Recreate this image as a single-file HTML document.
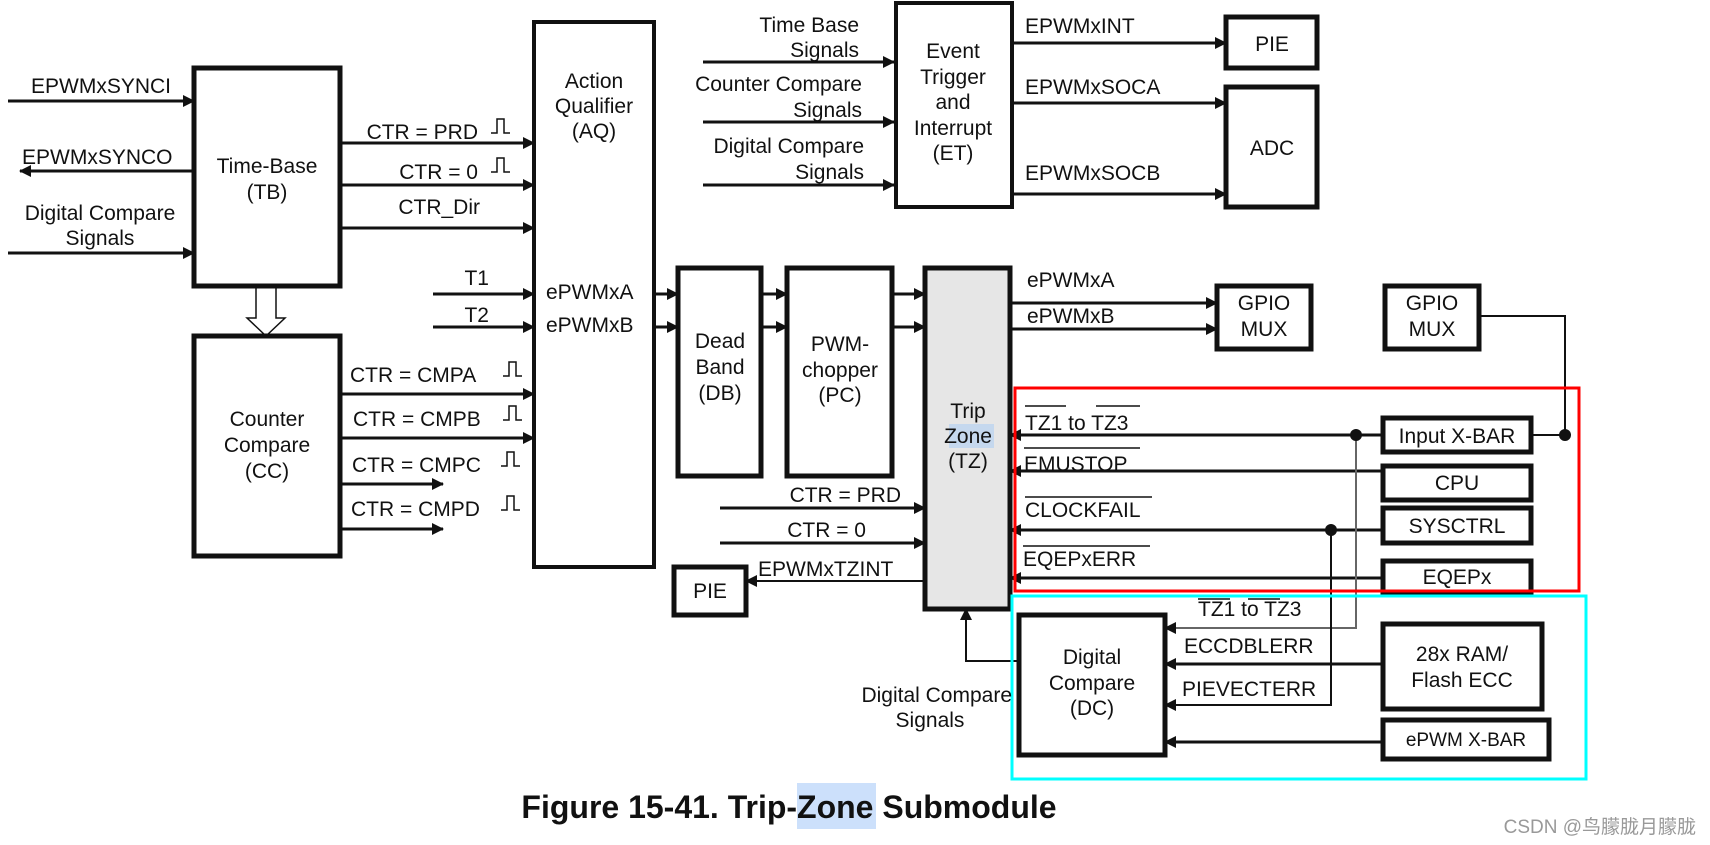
<!DOCTYPE html>
<html><head><meta charset="utf-8"><style>
html,body{margin:0;padding:0;background:#fff;width:1710px;height:845px;overflow:hidden}
svg text{font-family:"Liberation Sans",Arial,sans-serif;font-size:21px;fill:#111}
</style></head><body>
<svg width="1710" height="845" viewBox="0 0 1710 845" xmlns="http://www.w3.org/2000/svg">
<defs>
<marker id="a" markerWidth="12" markerHeight="12" refX="11" refY="6" orient="auto" markerUnits="userSpaceOnUse"><path d="M0,0 L12,6 L0,12 z" fill="#111"/></marker>
</defs>
<g fill="none" stroke="#111" stroke-width="3">
<line x1="8" y1="101" x2="194" y2="101" marker-end="url(#a)"/>
<line x1="194" y1="171" x2="20" y2="171" marker-end="url(#a)"/>
<line x1="8" y1="253" x2="194" y2="253" marker-end="url(#a)"/>
<line x1="340" y1="143" x2="534" y2="143" marker-end="url(#a)"/>
<line x1="340" y1="185" x2="534" y2="185" marker-end="url(#a)"/>
<line x1="340" y1="228" x2="534" y2="228" marker-end="url(#a)"/>
<line x1="433" y1="294" x2="534" y2="294" marker-end="url(#a)"/>
<line x1="433" y1="327" x2="534" y2="327" marker-end="url(#a)"/>
<line x1="340" y1="394" x2="534" y2="394" marker-end="url(#a)"/>
<line x1="340" y1="438" x2="534" y2="438" marker-end="url(#a)"/>
<line x1="340" y1="484" x2="443" y2="484" marker-end="url(#a)"/>
<line x1="340" y1="529" x2="443" y2="529" marker-end="url(#a)"/>
<line x1="654" y1="294" x2="678" y2="294" marker-end="url(#a)"/>
<line x1="654" y1="327" x2="678" y2="327" marker-end="url(#a)"/>
<line x1="761" y1="294" x2="787" y2="294" marker-end="url(#a)"/>
<line x1="761" y1="327" x2="787" y2="327" marker-end="url(#a)"/>
<line x1="892" y1="294" x2="925" y2="294" marker-end="url(#a)"/>
<line x1="892" y1="327" x2="925" y2="327" marker-end="url(#a)"/>
<line x1="703" y1="62" x2="894" y2="62" marker-end="url(#a)"/>
<line x1="703" y1="122" x2="894" y2="122" marker-end="url(#a)"/>
<line x1="703" y1="185" x2="894" y2="185" marker-end="url(#a)"/>
<line x1="1012" y1="43" x2="1226" y2="43" marker-end="url(#a)"/>
<line x1="1012" y1="103" x2="1226" y2="103" marker-end="url(#a)"/>
<line x1="1012" y1="194" x2="1226" y2="194" marker-end="url(#a)"/>
<line x1="1010" y1="303" x2="1217" y2="303" marker-end="url(#a)"/>
<line x1="1010" y1="329" x2="1217" y2="329" marker-end="url(#a)"/>
<line x1="720" y1="508" x2="925" y2="508" marker-end="url(#a)"/>
<line x1="720" y1="543" x2="925" y2="543" marker-end="url(#a)"/>
<line x1="925" y1="581" x2="746" y2="581" stroke-width="2" marker-end="url(#a)"/>
<line x1="1383" y1="435" x2="1010" y2="435" marker-end="url(#a)"/>
<line x1="1383" y1="471" x2="1010" y2="471" marker-end="url(#a)"/>
<line x1="1383" y1="530" x2="1010" y2="530" marker-end="url(#a)"/>
<line x1="1383" y1="578" x2="1010" y2="578" marker-end="url(#a)"/>
<polyline points="1479,316 1565,316 1565,435 1531,435" stroke-width="2"/>
<polyline points="1356,435 1356,628 1165,628" stroke="#666" stroke-width="2" marker-end="url(#a)"/>
<polyline points="1331,530 1331,705 1165,705" stroke-width="2" marker-end="url(#a)"/>
<line x1="1383" y1="664" x2="1165" y2="664" marker-end="url(#a)"/>
<line x1="1383" y1="742" x2="1165" y2="742" marker-end="url(#a)"/>
<polyline points="1019,661 966,661 966,609" stroke-width="2" marker-end="url(#a)"/>
</g>
<g fill="#111">
<circle cx="1356" cy="435" r="6"/><circle cx="1331" cy="530" r="6"/><circle cx="1565" cy="435" r="6"/>
</g>
<path d="M256,288 V318 H247 L266,336 L285,318 H276 V288" fill="#fff" stroke="#111" stroke-width="1.5"/>
<g fill="#fff" stroke="#111" stroke-width="5">
<rect x="194" y="68" width="146" height="218"/>
<rect x="194" y="336" width="146" height="220"/>
<rect x="534" y="22" width="120" height="545" stroke-width="4"/>
<rect x="678" y="268" width="83" height="208"/>
<rect x="787" y="268" width="105" height="208"/>
<rect x="925" y="268" width="85" height="341" fill="#e6e6e6"/>
<rect x="896" y="3" width="116" height="204" stroke-width="4"/>
<rect x="1226" y="17" width="91" height="51"/>
<rect x="1226" y="87" width="91" height="120"/>
<rect x="1217" y="286" width="94" height="63"/>
<rect x="1385" y="286" width="94" height="63"/>
<rect x="1383" y="418" width="148" height="34"/>
<rect x="1383" y="466" width="148" height="34"/>
<rect x="1383" y="508" width="148" height="35"/>
<rect x="1383" y="561" width="148" height="32"/>
<rect x="1019" y="615" width="146" height="140"/>
<rect x="1383" y="624" width="159" height="85"/>
<rect x="1383" y="720" width="166" height="39"/>
<rect x="674" y="567" width="72" height="48"/>
</g>
<rect x="1015" y="388" width="564" height="203" fill="none" stroke="#f00" stroke-width="3"/>
<rect x="1012" y="596" width="574" height="183" fill="none" stroke="#0ff" stroke-width="3"/>
<rect x="949" y="424" width="45" height="24" fill="#c5d8ee"/>
<rect x="797" y="783" width="79" height="46" fill="#cce0fb"/>
<g fill="none" stroke="#111" stroke-width="1.5">
<path d="M491,133 h6 v-14 h7 v14 h6"/><path d="M491,172 h6 v-14 h7 v14 h6"/>
<path d="M503,376 h6 v-14 h7 v14 h6"/><path d="M503,420 h6 v-14 h7 v14 h6"/>
<path d="M501,466 h6 v-14 h7 v14 h6"/><path d="M501,510 h6 v-14 h7 v14 h6"/>
</g>
<g stroke="#111" stroke-width="1.5">
<line x1="1025" y1="406" x2="1066" y2="406"/><line x1="1096" y1="406" x2="1140" y2="406"/>
<line x1="1024" y1="448" x2="1140" y2="448"/>
<line x1="1025" y1="497" x2="1152" y2="497"/>
<line x1="1023" y1="546" x2="1150" y2="546"/>
<line x1="1198" y1="599" x2="1230" y2="599"/><line x1="1248" y1="599" x2="1280" y2="599"/>
</g>
<g>
<text x="31" y="93">EPWMxSYNCI</text>
<text x="22" y="164">EPWMxSYNCO</text>
<text x="100" y="220" text-anchor="middle">Digital Compare</text>
<text x="100" y="245" text-anchor="middle">Signals</text>
<text x="267" y="173" text-anchor="middle">Time-Base</text>
<text x="267" y="199" text-anchor="middle">(TB)</text>
<text x="267" y="426" text-anchor="middle">Counter</text>
<text x="267" y="452" text-anchor="middle">Compare</text>
<text x="267" y="478" text-anchor="middle">(CC)</text>
<text x="594" y="88" text-anchor="middle">Action</text>
<text x="594" y="113" text-anchor="middle">Qualifier</text>
<text x="594" y="138" text-anchor="middle">(AQ)</text>
<text x="546" y="299">ePWMxA</text>
<text x="546" y="332">ePWMxB</text>
<text x="478" y="139" text-anchor="end">CTR = PRD</text>
<text x="478" y="179" text-anchor="end">CTR = 0</text>
<text x="480" y="214" text-anchor="end">CTR_Dir</text>
<text x="489" y="285" text-anchor="end">T1</text>
<text x="489" y="322" text-anchor="end">T2</text>
<text x="350" y="382">CTR = CMPA</text>
<text x="353" y="426">CTR = CMPB</text>
<text x="352" y="472">CTR = CMPC</text>
<text x="351" y="516">CTR = CMPD</text>
<text x="859" y="32" text-anchor="end">Time Base</text>
<text x="859" y="57" text-anchor="end">Signals</text>
<text x="862" y="91" text-anchor="end">Counter Compare</text>
<text x="862" y="117" text-anchor="end">Signals</text>
<text x="864" y="153" text-anchor="end">Digital Compare</text>
<text x="864" y="179" text-anchor="end">Signals</text>
<text x="953" y="58" text-anchor="middle">Event</text>
<text x="953" y="84" text-anchor="middle">Trigger</text>
<text x="953" y="109" text-anchor="middle">and</text>
<text x="953" y="135" text-anchor="middle">Interrupt</text>
<text x="953" y="160" text-anchor="middle">(ET)</text>
<text x="1025" y="33">EPWMxINT</text>
<text x="1025" y="94">EPWMxSOCA</text>
<text x="1025" y="180">EPWMxSOCB</text>
<text x="1272" y="51" text-anchor="middle">PIE</text>
<text x="1272" y="155" text-anchor="middle">ADC</text>
<text x="720" y="348" text-anchor="middle">Dead</text>
<text x="720" y="374" text-anchor="middle">Band</text>
<text x="720" y="400" text-anchor="middle">(DB)</text>
<text x="840" y="351" text-anchor="middle">PWM-</text>
<text x="840" y="377" text-anchor="middle">chopper</text>
<text x="840" y="402" text-anchor="middle">(PC)</text>
<text x="968" y="418" text-anchor="middle">Trip</text>
<text x="968" y="443" text-anchor="middle">Zone</text>
<text x="968" y="468" text-anchor="middle">(TZ)</text>
<text x="1027" y="287">ePWMxA</text>
<text x="1027" y="323">ePWMxB</text>
<text x="1264" y="310" text-anchor="middle">GPIO</text>
<text x="1264" y="336" text-anchor="middle">MUX</text>
<text x="1432" y="310" text-anchor="middle">GPIO</text>
<text x="1432" y="336" text-anchor="middle">MUX</text>
<text x="1025" y="430">TZ1 to TZ3</text>
<text x="1024" y="471">EMUSTOP</text>
<text x="1025" y="517">CLOCKFAIL</text>
<text x="1023" y="566">EQEPxERR</text>
<text x="1457" y="443" text-anchor="middle">Input X-BAR</text>
<text x="1457" y="490" text-anchor="middle">CPU</text>
<text x="1457" y="533" text-anchor="middle">SYSCTRL</text>
<text x="1457" y="584" text-anchor="middle">EQEPx</text>
<text x="901" y="502" text-anchor="end">CTR = PRD</text>
<text x="866" y="537" text-anchor="end">CTR = 0</text>
<text x="758" y="576">EPWMxTZINT</text>
<text x="710" y="598" text-anchor="middle">PIE</text>
<text x="1198" y="616">TZ1 to TZ3</text>
<text x="1184" y="653">ECCDBLERR</text>
<text x="1182" y="696">PIEVECTERR</text>
<text x="1092" y="664" text-anchor="middle">Digital</text>
<text x="1092" y="690" text-anchor="middle">Compare</text>
<text x="1092" y="715" text-anchor="middle">(DC)</text>
<text x="1462" y="661" text-anchor="middle">28x RAM/</text>
<text x="1462" y="687" text-anchor="middle">Flash ECC</text>
<text x="1466" y="746" text-anchor="middle" style="font-size:19px">ePWM X-BAR</text>
<text x="1012" y="702" text-anchor="end">Digital Compare</text>
<text x="930" y="727" text-anchor="middle">Signals</text>
<text x="789" y="818" text-anchor="middle" style="font-size:32px;font-weight:bold">Figure 15-41. Trip-Zone Submodule</text>
<text x="1696" y="833" text-anchor="end" style="font-size:19px;fill:#999">CSDN @鸟朦胧月朦胧</text>
</g>
</svg>
</body></html>
